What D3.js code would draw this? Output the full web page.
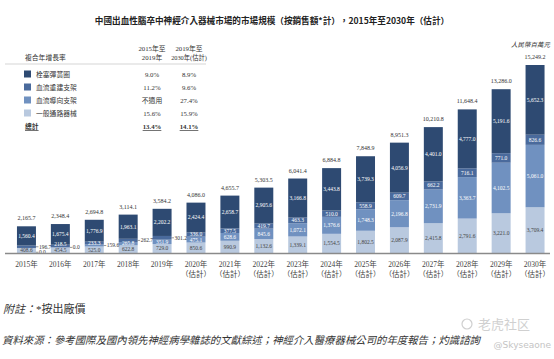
<!DOCTYPE html>
<html>
<head>
<meta charset="utf-8">
<script src="https://cdn.jsdelivr.net/npm/d3@7"></script>
<style>
body { margin: 0; background: #fff; }
svg text { font-family: "Liberation Serif", "Noto Sans CJK TC", serif; fill: #333; }
</style>
</head>
<body>
<div id="chart"></div>
<script>
var years = ["2015","2016","2017","2018","2019","2020","2021","2022","2023","2024","2025","2026","2027","2028","2029","2030"];
var coils = [1560.4,1675.4,1776.9,1963.1,2202.2,2424.4,2658.7,2905.6,3166.8,3443.8,3739.3,4056.9,4401.0,4777.0,5191.6,5652.3];
var revasc = [196.7,218.5,233.3,262.7,301.2,336.0,377.5,419.7,463.3,510.0,558.9,609.7,662.2,716.1,771.0,826.6];
var diversion = [0,0,159.6,265.8,351.9,475.1,628.6,845.6,1072.1,1376.6,1748.3,2196.8,2731.9,3363.7,4102.5,5061.0];
var access = [408.6,454.5,525.0,622.8,729.0,850.6,990.9,1132.6,1339.1,1554.5,1802.5,2087.9,2415.8,2791.6,3221.0,3709.4];
var totals = [2165.7,2348.4,2694.8,3114.1,3584.2,4086.0,4655.7,5303.5,6041.4,6884.8,7848.9,8951.3,10210.8,11648.4,13286.0,15249.2];

// legend / CAGR table, top to bottom
var seriesNames = ["栓塞彈簧圈","血流重建支架","血流導向支架","一般通路器械"];
var cagr1519 = ["9.0%","11.2%","不適用","15.6%"];
var cagr1930 = ["8.9%","9.6%","27.4%","15.9%"];
var totalCagr = ["13.4%","14.1%"];
var colors = ["#2e4a72","#4a6a9c","#7091c0","#b9c9df"];

// labels drawn beside the bar instead of inside: [year, series index]
var outsideLabels = [["2015",1],["2015",2],["2016",2],["2017",2],["2018",1],["2019",1]];

var width = 554, height = 359;
var baseY = 253;

var svg = d3.select('#chart').append('svg')
	.attr('width', width)
	.attr('height', height);

var x = d3.scaleBand().domain(years).range([9.5, 552]).paddingInner(0.44).paddingOuter(0.22);
var y = d3.scaleLinear().domain([0, d3.max(totals)]).range([baseY, 65]);

// stack bottom-up: access, diversion, revasc, coils
var rows = years.map((yr, i) => ({ year: yr, s0: coils[i], s1: revasc[i], s2: diversion[i], s3: access[i] }));
var stack = d3.stack().keys(["s3","s2","s1","s0"]);
var layers = stack(rows);

svg.append('text')
	.attr('x', 272).attr('y', 24)
	.attr('text-anchor', 'middle')
	.style('font-family', '"Noto Sans CJK TC", sans-serif')
	.style('font-weight', 'bold')
	.style('font-size', '8.6px')
	.style('fill', '#222')
	.text('中國出血性腦卒中神經介入器械市場的市場規模（按銷售額*計），2015年至2030年（估計）');

svg.append('text')
	.attr('x', 550).attr('y', 47)
	.attr('text-anchor', 'end')
	.style('font-style', 'italic')
	.style('font-size', '6.5px')
	.text('人民幣百萬元');

var bars = svg.append('g');
layers.forEach(layer => {
	var idx = 3 - layer.index;
	bars.selectAll(null)
		.data(layer)
		.enter()
		.append('rect')
		.attr('x', d => x(d.data.year))
		.attr('width', x.bandwidth())
		.attr('y', d => y(d[1]))
		.attr('height', d => y(d[0]) - y(d[1]))
		.style('fill', colors[idx]);
});

// segment value labels
var labelG = svg.append('g').style('font-size', '5.5px');
years.forEach((yr, i) => {
	var inside = [];
	var outside = [];
	layers.forEach(layer => {
		var idx = 3 - layer.index;
		var d = layer[i];
		var v = d[1] - d[0];
		var item = { idx: idx, v: v, mid: (y(d[0]) + y(d[1])) / 2 };
		var isOut = outsideLabels.some(o => o[0] === yr && o[1] === idx);
		(isOut ? outside : inside).push(item);
	});
	var last = Infinity;
	inside.forEach(it => {
		it.pos = Math.min(it.mid, last - 5.8);
		last = it.pos;
		labelG.append('text')
			.attr('x', x(yr) + x.bandwidth() / 2)
			.attr('y', it.pos)
			.attr('dy', '0.35em')
			.attr('text-anchor', 'middle')
			.style('fill', it.idx === 3 ? '#444' : '#fff')
			.text(d3.format(',.1f')(it.v));
	});
	var prev = -Infinity;
	outside.slice().reverse().forEach(it => {
		it.pos = Math.max(it.mid, prev + 5.5);
		prev = it.pos;
		var x0 = x(yr) + x.bandwidth();
		labelG.append('line')
			.attr('x1', x0).attr('x2', x0 + 2.5)
			.attr('y1', it.pos).attr('y2', it.pos)
			.style('stroke', '#555').style('stroke-width', 0.6);
		labelG.append('text')
			.attr('x', x0 + 3)
			.attr('y', it.pos)
			.attr('dy', '0.35em')
			.text(d3.format(',.1f')(it.v));
	});
});

// totals above bars
svg.append('g').selectAll('text')
	.data(totals)
	.enter()
	.append('text')
	.attr('x', (d, i) => x(years[i]) + x.bandwidth() / 2)
	.attr('y', d => y(d) - 6)
	.attr('text-anchor', 'middle')
	.style('font-size', '6px')
	.text(d => d3.format(',.1f')(d));

svg.append('line')
	.attr('x1', 5).attr('x2', 550)
	.attr('y1', baseY + 0.5).attr('y2', baseY + 0.5)
	.style('stroke', '#8a8a8a').style('stroke-width', 1.3);

var xAxis = d3.axisBottom(x).tickSize(0).tickPadding(0);
var ax = svg.append('g')
	.attr('transform', 'translate(0,' + baseY + ')')
	.call(xAxis);
ax.select('.domain').remove();
ax.selectAll('.tick text')
	.attr('y', 0).attr('dy', null)
	.style('font-family', '"Liberation Serif", "Noto Sans CJK TC", serif')
	.style('font-size', '7.5px')
	.style('fill', '#444')
	.each(function (d) {
		var t = d3.select(this);
		t.text(null);
		t.append('tspan').attr('x', 0).attr('y', 14).text(d + '年');
		if (+d >= 2020) {
			t.append('tspan').attr('x', 0).attr('y', 24).text('（估計）');
		}
	});

// CAGR table
var col1 = 152, col2 = 189;
var table = svg.append('g').style('font-size', '6.8px');
table.append('text').attr('x', 25).attr('y', 60).text('複合年增長率');
table.append('text').attr('x', col1).attr('y', 51).attr('text-anchor', 'middle').text('2015年至');
table.append('text').attr('x', col1).attr('y', 60).attr('text-anchor', 'middle').text('2019年');
table.append('text').attr('x', col2).attr('y', 51).attr('text-anchor', 'middle').text('2019年至');
table.append('text').attr('x', col2).attr('y', 60).attr('text-anchor', 'middle').style('font-size', '6.3px').text('2030年(估計)');
table.append('line')
	.attr('x1', 5).attr('x2', 206).attr('y1', 64).attr('y2', 64)
	.style('stroke', '#aaa').style('stroke-width', 0.5);

var rowY = d3.scalePoint().domain(d3.range(5)).range([77, 129]);
seriesNames.forEach((name, i) => {
	table.append('rect')
		.attr('x', 24).attr('y', rowY(i) - 6.5)
		.attr('width', 7).attr('height', 7)
		.style('fill', colors[i]);
	table.append('text').attr('x', 36).attr('y', rowY(i)).text(name);
	table.append('text').attr('x', col1).attr('y', rowY(i)).attr('text-anchor', 'middle').text(cagr1519[i]);
	table.append('text').attr('x', col2).attr('y', rowY(i)).attr('text-anchor', 'middle').text(cagr1930[i]);
});
var totRow = [["總計", 25, 'start'], [totalCagr[0], col1, 'middle'], [totalCagr[1], col2, 'middle']];
totRow.forEach(c => {
	table.append('text')
		.attr('x', c[1]).attr('y', rowY(4))
		.attr('text-anchor', c[2])
		.style('font-weight', 'bold')
		.style('text-decoration', 'underline')
		.text(c[0]);
});

// notes
svg.append('text')
	.attr('x', 3).attr('y', 313)
	.style('font-size', '11px')
	.call(t => {
		t.append('tspan').style('font-style', 'italic').text('附註：');
		t.append('tspan').text('*按出廠價');
	});
svg.append('text')
	.attr('x', 2).attr('y', 344)
	.style('font-size', '10.4px')
	.style('font-style', 'italic')
	.text('資料來源：參考國際及國內領先神經病學雜誌的文獻綜述；神經介入醫療器械公司的年度報告；灼識諮詢');

// watermark
svg.append('circle').attr('cx', 467).attr('cy', 324).attr('r', 5)
	.style('fill', 'none').style('stroke', '#cfcfcf').style('stroke-width', 1.2);
svg.append('text').attr('x', 478).attr('y', 329)
	.style('font-family', '"Noto Sans CJK SC", sans-serif')
	.style('font-size', '13px').style('fill', '#d0d0d0')
	.text('老虎社区');
svg.append('text').attr('x', 551).attr('y', 348)
	.attr('text-anchor', 'end')
	.style('font-family', '"DejaVu Sans", sans-serif')
	.style('font-size', '9px').style('fill', '#c4c4c4')
	.text('@Skyseaone');
</script>
</body>
</html>
